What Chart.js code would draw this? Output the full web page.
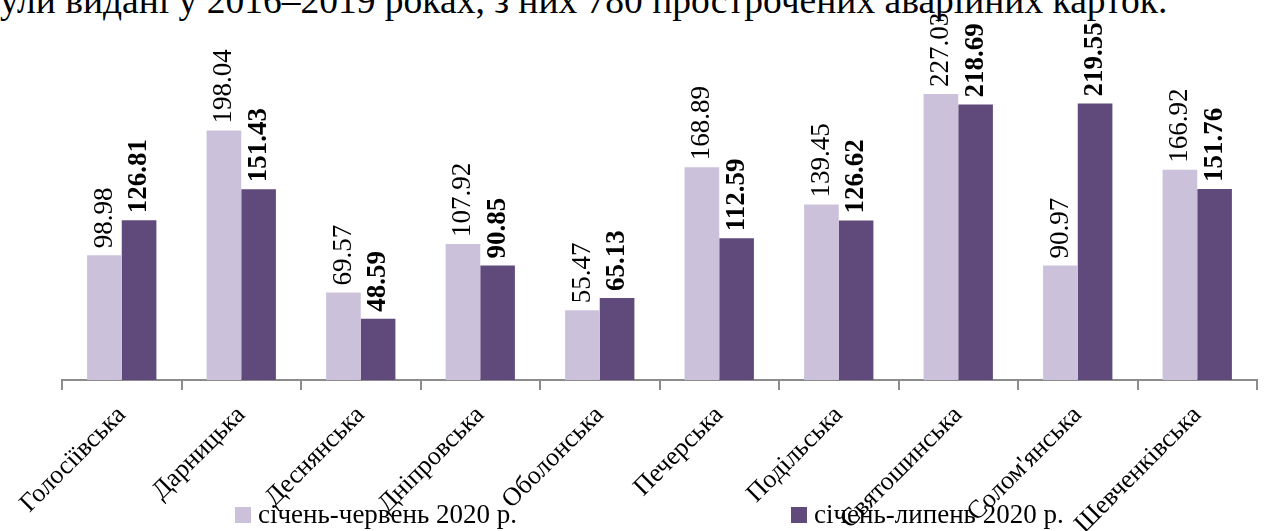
<!DOCTYPE html>
<html>
<head>
<meta charset="utf-8">
<script src="https://cdn.jsdelivr.net/npm/chart.js@4.4.1/dist/chart.umd.min.js"></script>
<style>
  body { margin: 0; background: #fff; overflow: hidden; }
  #wrap { position: relative; width: 1265px; height: 531px; }
  #lead {
    position: absolute; left: 0; top: -18px; white-space: nowrap;
    font-family: "Liberation Serif", serif; font-size: 37.5px; line-height: 37.5px; color: #000;
  }
  canvas { position: absolute; left: 0; top: 0; }
</style>
</head>
<body>
<div id="wrap">
  <div id="lead">ули видані у 2016–2019 роках, з них 780 прострочених аварійних карток.</div>
  <canvas id="chart" width="1265" height="531"></canvas>
</div>
<script>
const districts = ['Голосіївська', 'Дарницька', 'Деснянська', 'Дніпровська', 'Оболонська',
  'Печерська', 'Подільська', 'Святошинська', "Солом'янська", 'Шевченківська'];
const janJune = [98.98, 198.04, 69.57, 107.92, 55.47, 168.89, 139.45, 227.03, 90.97, 166.92];
const janJuly = [126.81, 151.43, 48.59, 90.85, 65.13, 112.59, 126.62, 218.69, 219.55, 151.76];
const seriesNames = ['січень-червень 2020 р.', 'січень-липень 2020 р.'];
const seriesColors = ['#CCC1DA', '#604A7B'];

const serif = "'Liberation Serif', 'Times New Roman', serif";

// numbers over the bars, turned on their side
const valueLabels = {
  id: 'valueLabels',
  afterDatasetsDraw(chart) {
    const { ctx } = chart;
    chart.data.datasets.forEach((ds, i) => {
      chart.getDatasetMeta(i).data.forEach((bar, j) => {
        ctx.save();
        ctx.translate(bar.x, bar.y - 7);
        ctx.rotate(-Math.PI / 2);
        ctx.font = (i === 1 ? 'bold ' : '') + '27px ' + serif;
        ctx.fillStyle = '#000';
        ctx.textAlign = 'left';
        ctx.textBaseline = 'middle';
        ctx.fillText(ds.data[j].toFixed(2), 0, 0);
        ctx.restore();
      });
    });
  },
};

// legend sits on top of the axis labels like in the original
const legendRow = {
  id: 'legendRow',
  afterDraw(chart) {
    const { ctx } = chart;
    const spots = [235, 791];
    chart.data.datasets.forEach((ds, i) => {
      const x = spots[i];
      ctx.save();
      ctx.fillStyle = ds.backgroundColor;
      ctx.fillRect(x, 507, 16, 16);
      ctx.fillStyle = '#000';
      ctx.font = '27px ' + serif;
      ctx.textAlign = 'left';
      ctx.textBaseline = 'alphabetic';
      ctx.fillText(ds.label, x + 23, 523);
      ctx.restore();
    });
  },
};

const data = {
  labels: districts,
  datasets: [
    { label: seriesNames[0], data: janJune, backgroundColor: seriesColors[0] },
    { label: seriesNames[1], data: janJuly, backgroundColor: seriesColors[1] },
  ],
};

function draw() {
  new Chart(document.getElementById('chart'), {
    type: 'bar',
    data,
    plugins: [valueLabels, legendRow],
    options: {
      responsive: false,
      animation: false,
      layout: { padding: { top: 40, left: 62, right: 8, bottom: 0 } },
      datasets: { bar: { categoryPercentage: 0.58, barPercentage: 1 } },
      scales: {
        x: {
          grid: { drawOnChartArea: false, drawTicks: true, tickLength: 10, color: '#8c8c8c', lineWidth: 2 },
          border: { color: '#8c8c8c', width: 2 },
          ticks: {
            autoSkip: false,
            minRotation: 45,
            maxRotation: 45,
            padding: 10,
            color: '#000',
            font: { family: serif, size: 26 },
          },
          afterFit: (scale) => {
            scale.height = 151;
          },
        },
        y: { display: false, min: 0, max: 270 },
      },
      plugins: {
        legend: { display: false },
        tooltip: { enabled: false },
      },
    },
  });
}

Promise.all([
  document.fonts.load("24px 'Liberation Serif'"),
  document.fonts.load("bold 24px 'Liberation Serif'"),
]).then(draw, draw);
</script>
</body>
</html>
